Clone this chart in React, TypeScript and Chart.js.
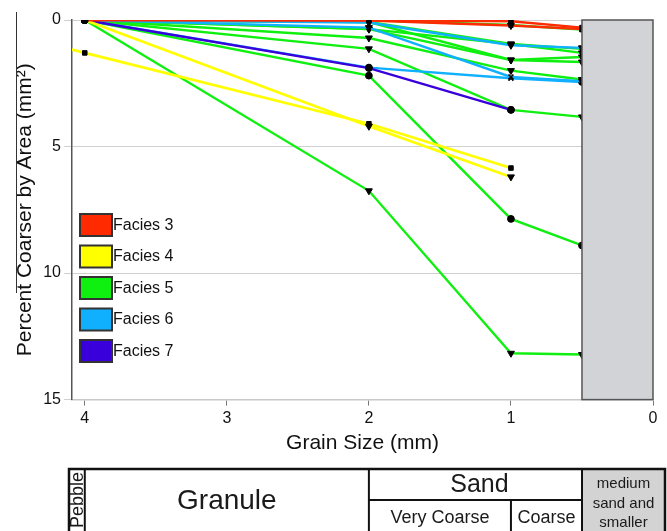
import React, { useEffect, useRef } from 'react';
import { Chart, registerables } from 'chart.js';

Chart.register(...registerables);

const FONT = '"Liberation Sans", Arial, Helvetica, sans-serif';

// Grain sizes (mm) at which samples were measured
const sieveSizes = [4, 2, 1, 0.5];
const sieveSizesTo1mm = [4, 2, 1];
const sieveSizesWithPebble = [4.9, 4, 2, 1];

// Facies legend
const faciesNames = ['Facies 3', 'Facies 4', 'Facies 5', 'Facies 6', 'Facies 7'];
const faciesColors = ['#ff2a00', '#ffff00', '#10f010', '#10b0ff', '#3a00dc'];

// Cumulative percent coarser (by area) for each sample
const f3SampleA = [0, 0, 0.05, 0.3];
const f3SampleB = [0, 0.02, 0.22, 0.36];
const f4SampleA = [0, 4.2, 6.2];
const f4SampleB = [0, 1.3, 4.1, 5.85];
const f5SampleA = [0, 0, 0.2, 0.38];
const f5SampleB = [0, 0.08, 0.95, 1.14];
const f5SampleC = [0, 0.36, 0.95, 1.3];
const f5SampleD = [0, 0.36, 1.58, 1.46];
const f5SampleE = [0, 0.08, 1.58, 1.66];
const f5SampleF = [0, 0.71, 2.0, 2.35];
const f5SampleG = [0, 1.14, 3.55, 3.83];
const f5SampleH = [0, 2.2, 7.86, 8.91];
const f5SampleI = [0, 6.75, 13.17, 13.22];
const f6SampleA = [0, 0.1, 1.0, 1.1];
const f6SampleB = [0, 0.3, 2.25, 2.42];
const f6SampleC = [0, 1.88, 2.3, 2.45];
const f7SampleA = [0, 1.9, 3.55];

// Marker per point: o circle, s square, v down-triangle, x cross, - none
const samples = [
  { facies: 0, sizes: sieveSizes, values: f3SampleA, marks: 'osss' },
  { facies: 0, sizes: sieveSizes, values: f3SampleB, marks: 'osvs' },
  { facies: 1, sizes: sieveSizesTo1mm, values: f4SampleA, marks: 'ovv' },
  { facies: 1, sizes: sieveSizesWithPebble, values: f4SampleB, marks: '-sss' },
  { facies: 4, sizes: sieveSizesTo1mm, values: f7SampleA, marks: 'ooo' },
  { facies: 3, sizes: sieveSizes, values: f6SampleA, marks: 'ovvv' },
  { facies: 3, sizes: sieveSizes, values: f6SampleB, marks: 'ovxv' },
  { facies: 3, sizes: sieveSizes, values: f6SampleC, marks: 'ooxo' },
  { facies: 2, sizes: sieveSizes, values: f5SampleA, marks: 'osss' },
  { facies: 2, sizes: sieveSizes, values: f5SampleB, marks: 'ovvv' },
  { facies: 2, sizes: sieveSizes, values: f5SampleC, marks: 'ovvv' },
  { facies: 2, sizes: sieveSizes, values: f5SampleD, marks: 'ovvv' },
  { facies: 2, sizes: sieveSizes, values: f5SampleE, marks: 'ovvv' },
  { facies: 2, sizes: sieveSizes, values: f5SampleF, marks: 'ovvv' },
  { facies: 2, sizes: sieveSizes, values: f5SampleG, marks: 'ovov' },
  { facies: 2, sizes: sieveSizes, values: f5SampleH, marks: 'oooo' },
  { facies: 2, sizes: sieveSizes, values: f5SampleI, marks: 'ovvv' },
];

// Fine fraction not resolved (0.5 mm and below)
const fineFractionFrom = 0.5;

// Wentworth class table under the axis
const classEdges = [4, 2, 1, 0.5];
const pebbleLabel = 'Pebble';
const granuleLabel = 'Granule';
const sandLabel = 'Sand';
const sandSubLabels = ['Very Coarse', 'Coarse'];
const fineLabelLines = ['medium', 'sand and', 'smaller'];

const styleOf = (m: string) =>
  m === 's' ? 'rect' : m === 'v' ? 'triangle' : m === 'x' ? 'crossRot' : 'circle';
const radiusOf = (m: string) =>
  m === '-' ? 0 : m === 's' ? 3.2 : m === 'v' ? 4 : m === 'x' ? 3.5 : 3.4;

const fineBoxPlugin = {
  id: 'fineBox',
  afterDatasetsDraw(chart: any) {
    const { ctx, scales } = chart;
    const x0 = scales.x.getPixelForValue(fineFractionFrom);
    const x1 = scales.x.getPixelForValue(0);
    const y0 = scales.y.getPixelForValue(0);
    const y1 = scales.y.getPixelForValue(15);
    ctx.save();
    ctx.fillStyle = '#d2d3d6';
    ctx.fillRect(x0, y0, x1 - x0, y1 - y0);
    ctx.strokeStyle = '#555';
    ctx.lineWidth = 1.5;
    ctx.strokeRect(x0, y0, x1 - x0, y1 - y0);
    ctx.restore();
  },
};

const faciesLegendPlugin = {
  id: 'faciesLegend',
  afterDraw(chart: any) {
    const { ctx, chartArea } = chart;
    const left = chartArea.left + 8;
    const top = 214;
    const step = 31.5;
    ctx.save();
    faciesNames.forEach((name, i) => {
      const y = top + i * step;
      ctx.fillStyle = faciesColors[i];
      ctx.fillRect(left, y, 32, 22);
      ctx.strokeStyle = '#333';
      ctx.lineWidth = 2;
      ctx.strokeRect(left, y, 32, 22);
      ctx.fillStyle = '#111';
      ctx.font = `16px ${FONT}`;
      ctx.textAlign = 'left';
      ctx.textBaseline = 'middle';
      ctx.fillText(name, left + 33, y + 11.5);
    });
    ctx.restore();
  },
};

const classTablePlugin = {
  id: 'classTable',
  afterDraw(chart: any) {
    const { ctx, scales, chartArea, width, height } = chart;
    const xs = classEdges.map((v) => scales.x.getPixelForValue(v));
    const left = chartArea.left - 3;
    const right = width - 2;
    const top = 469;
    const mid = 500;
    const bottom = height + 10;
    ctx.save();
    ctx.fillStyle = '#d3d3d3';
    ctx.fillRect(xs[3], top, right - xs[3], bottom - top);

    ctx.strokeStyle = '#111';
    ctx.lineWidth = 2;
    const line = (ax: number, ay: number, bx: number, by: number) => {
      ctx.beginPath();
      ctx.moveTo(ax, ay);
      ctx.lineTo(bx, by);
      ctx.stroke();
    };
    line(xs[0], top, xs[0], bottom);
    line(xs[1], top, xs[1], bottom);
    line(xs[2], mid, xs[2], bottom);
    line(xs[3], top, xs[3], bottom);
    line(xs[1], mid, xs[3], mid);

    ctx.lineWidth = 2.5;
    ctx.beginPath();
    ctx.moveTo(left, bottom);
    ctx.lineTo(left, top);
    ctx.lineTo(right, top);
    ctx.lineTo(right, bottom);
    ctx.stroke();

    ctx.fillStyle = '#1a1a1a';
    ctx.textAlign = 'center';
    ctx.textBaseline = 'middle';

    ctx.font = `28px ${FONT}`;
    ctx.fillText(granuleLabel, (xs[0] + xs[1]) / 2, 501);
    ctx.font = `25px ${FONT}`;
    ctx.fillText(sandLabel, (xs[1] + xs[3]) / 2 + 4, 485);
    ctx.font = `18px ${FONT}`;
    ctx.fillText(sandSubLabels[0], (xs[1] + xs[2]) / 2, 518);
    ctx.fillText(sandSubLabels[1], (xs[2] + xs[3]) / 2, 518);
    ctx.font = `15px ${FONT}`;
    fineLabelLines.forEach((t, i) => {
      ctx.fillText(t, (xs[3] + right) / 2, 484 + i * 19.5);
    });

    ctx.save();
    ctx.translate((left + xs[0]) / 2 + 1, 472);
    ctx.rotate(-Math.PI / 2);
    ctx.font = `18px ${FONT}`;
    ctx.textAlign = 'right';
    ctx.fillText(pebbleLabel, 0, 0);
    ctx.restore();

    // thin rule beside the vertical axis title
    ctx.strokeStyle = '#333';
    ctx.lineWidth = 1;
    line(16.5, 12, 16.5, 293);
    ctx.restore();
  },
};

export default function App() {
  const canvasRef = useRef<HTMLCanvasElement | null>(null);

  useEffect(() => {
    const canvas = canvasRef.current;
    if (!canvas) return;
    const datasets = samples.map((s) => {
      const marks = s.marks.split('');
      return {
        label: faciesNames[s.facies],
        data: s.values.map((v, i) => ({ x: s.sizes[i], y: v })),
        borderColor: faciesColors[s.facies],
        borderWidth: s.facies === 1 ? 2.7 : 2.4,
        tension: 0,
        fill: false,
        pointStyle: marks.map(styleOf),
        pointRadius: marks.map(radiusOf),
        pointRotation: marks.map((m) => (m === 'v' ? 180 : 0)),
        pointBackgroundColor: '#000',
        pointBorderColor: '#000',
        pointBorderWidth: marks.map((m) => (m === 'x' ? 1.6 : 1)),
      };
    });

    const chart = new Chart(canvas, {
      type: 'line',
      data: { datasets },
      options: {
        responsive: false,
        animation: false,
        events: [],
        layout: { padding: { top: 20, left: 9, right: 14, bottom: 75 } },
        plugins: {
          legend: { display: false },
          tooltip: { enabled: false },
        },
        scales: {
          x: {
            type: 'linear',
            reverse: true,
            min: 0,
            max: 4.09,
            ticks: {
              stepSize: 1,
              includeBounds: false,
              color: '#111',
              font: { family: FONT, size: 16 },
              padding: 3,
            },
            grid: { drawOnChartArea: false, color: '#777', tickLength: 6 },
            border: { color: '#c8c8c8', width: 1.5 },
            title: {
              display: true,
              text: 'Grain Size (mm)',
              color: '#111',
              font: { family: FONT, size: 21 },
              padding: { top: 0, bottom: 0 },
            },
          },
          y: {
            type: 'linear',
            reverse: true,
            min: 0,
            max: 15,
            ticks: {
              stepSize: 5,
              color: '#111',
              font: { family: FONT, size: 16 },
              padding: 3,
            },
            grid: { color: '#d0d0d0', tickLength: 8 },
            border: { color: '#555', width: 1.5 },
            title: {
              display: true,
              text: 'Percent Coarser by Area (mm²)',
              color: '#111',
              font: { family: FONT, size: 21 },
              padding: { top: 4, bottom: 2 },
            },
          },
        },
      },
      plugins: [fineBoxPlugin, faciesLegendPlugin, classTablePlugin],
    });
    return () => chart.destroy();
  }, []);

  return (
    <div style={{ position: 'fixed', left: 0, top: 0, width: 667, height: 531, background: '#fff' }}>
      <canvas ref={canvasRef} width={667} height={531} style={{ display: 'block' }} />
    </div>
  );
}
